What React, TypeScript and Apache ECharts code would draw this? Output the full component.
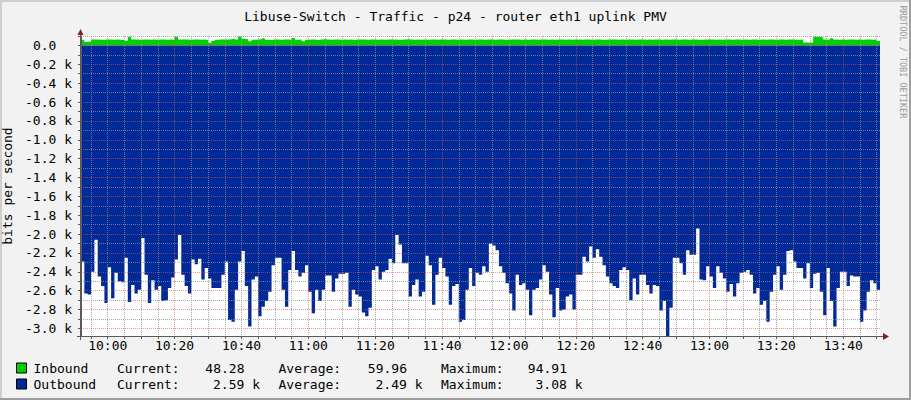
import React, { useEffect, useRef } from 'react';
import * as echarts from 'echarts';

// Time axis in minutes since midnight (09:52 .. 13:51), one sample per minute
const START_MINUTE = 592;
const END_MINUTE = 831;

// Outbound traffic, in k bits per second (drawn negative)
const outboundK = [
  2.29, 2.63, 2.64, 2.40, 2.06, 2.45, 2.55, 2.73, 2.35, 2.68, 2.41, 2.50, 2.51, 2.25, 2.72, 2.54, 2.63, 2.59, 2.04, 2.43,
  2.73, 2.49, 2.59, 2.55, 2.71, 2.70, 2.57, 2.46, 2.27, 2.01,
  2.43, 2.55, 2.63, 2.27, 2.32, 2.26, 2.48, 2.36, 2.47, 2.57, 2.57, 2.57, 2.43, 2.29, 2.91, 2.93, 2.59, 2.29, 2.18, 2.55,
  2.98, 2.48, 2.45, 2.87, 2.77, 2.71, 2.61, 2.33, 2.25, 2.25,
  2.59, 2.77, 2.38, 2.18, 2.38, 2.45, 2.41, 2.33, 2.61, 2.84, 2.59, 2.71, 2.59, 2.44, 2.44, 2.61, 2.47, 2.42, 2.42, 2.41,
  2.77, 2.59, 2.64, 2.66, 2.83, 2.87, 2.78, 2.38, 2.34, 2.48,
  2.40, 2.38, 2.26, 2.31, 2.01, 2.11, 2.31, 2.31, 2.66, 2.54, 2.48, 2.66, 2.61, 2.23, 2.33, 2.75, 2.43, 2.25, 2.36, 2.45,
  2.75, 2.55, 2.53, 2.93, 2.91, 2.59, 2.36, 2.55, 2.41, 2.43,
  2.34, 2.40, 2.10, 2.12, 2.17, 2.34, 2.41, 2.52, 2.63, 2.81, 2.43, 2.54, 2.52, 2.59, 2.86, 2.59, 2.57, 2.48, 2.33, 2.40,
  2.64, 2.88, 2.57, 2.81, 2.80, 2.66, 2.64, 2.80, 2.43, 2.43,
  2.24, 2.29, 2.13, 2.25, 2.16, 2.24, 2.33, 2.45, 2.52, 2.55, 2.57, 2.38, 2.35, 2.38, 2.70, 2.47, 2.64, 2.43, 2.43, 2.54,
  2.63, 2.54, 2.55, 2.81, 2.71, 3.08, 2.78, 2.25, 2.25, 2.31,
  2.43, 2.17, 2.22, 2.22, 1.94, 2.48, 2.49, 2.34, 2.45, 2.57, 2.34, 2.41, 2.47, 2.61, 2.53, 2.66, 2.52, 2.41, 2.40, 2.38,
  2.43, 2.63, 2.57, 2.75, 2.71, 2.93, 2.61, 2.43, 2.34, 2.59,
  2.43, 2.18, 2.17, 2.29, 2.36, 2.36, 2.47, 2.31, 2.57, 2.42, 2.41, 2.61, 2.86, 2.36, 2.71, 2.98, 2.57, 2.40, 2.40, 2.55,
  2.44, 2.45, 2.45, 2.93, 2.81, 2.61, 2.49, 2.52, 2.59,
];

// Inbound traffic, in bits per second
const inboundBits = [
  60, 40, 42, 62, 63, 60, 61, 64, 62, 60, 62, 61, 58, 50, 92, 63, 62, 60, 64, 62,
  60, 63, 61, 62, 63, 60, 62, 61, 93, 64,
  63, 62, 60, 64, 62, 61, 63, 58, 28, 48, 61, 63, 62, 64, 66, 72, 62, 95, 70, 66,
  45, 60, 64, 66, 75, 60, 58, 62, 63, 61,
  62, 64, 60, 80, 61, 62, 45, 60, 64, 62, 58, 63, 65, 62, 60, 62, 64, 61, 63, 60,
  62, 58, 63, 62, 64, 60, 62, 63, 61, 62,
  60, 63, 62, 64, 61, 60, 62, 65, 63, 60, 62, 61, 63, 60, 62, 64, 61, 63, 62, 60,
  64, 62, 60, 63, 61, 62, 64, 60, 62, 63,
  61, 62, 64, 60, 62, 63, 61, 60, 62, 64, 63, 60, 62, 61, 63, 62, 60, 64, 62, 61,
  63, 60, 62, 64, 61, 62, 60, 63, 62, 61,
  62, 64, 60, 62, 63, 61, 60, 62, 64, 63, 60, 62, 61, 63, 62, 60, 64, 62, 61, 63,
  60, 62, 64, 61, 62, 60, 63, 62, 61, 62,
  64, 60, 62, 63, 61, 60, 62, 64, 63, 60, 62, 61, 63, 62, 60, 64, 62, 61, 63, 60,
  62, 64, 61, 62, 60, 63, 62, 61, 62, 64,
  60, 62, 63, 61, 60, 62, 30, 28, 32, 93, 90, 88, 62, 60, 75, 62, 61, 63, 60, 62,
  64, 61, 62, 60, 63, 62, 61, 62, 48,
];

const xLabelMinutes = [600, 620, 640, 660, 680, 700, 720, 740, 760, 780, 800, 820];
const yLabelValues = [-3000, -2800, -2600, -2400, -2200, -2000, -1800, -1600, -1400, -1200, -1000, -800, -600, -400, -200, 0];

const legendNames = ['Inbound', 'Outbound'];
const seriesColors = ['#00CF00', '#002A97'];
const currentStats = ['48.28', '2.59 k'];
const averageStats = ['59.96', '2.49 k'];
const maximumStats = ['94.91', '3.08 k'];

const TITLE = 'Libuse-Switch - Traffic - p24 - router eth1 uplink PMV';
const FONT = "'DejaVu Sans Mono', 'Liberation Mono', monospace";
const GRID_MINOR = 'rgba(143,143,143,0.75)';
const GRID_MAJOR = 'rgba(222,79,79,0.6)';
const AXIS_COLOR = '#5a5a5a';
const ARROW_COLOR = '#801F1F';

const xTicks: number[] = [];
for (let m = 595; m <= 830; m += 5) xTicks.push(m);
const yTicks: number[] = [];
for (let v = -3000; v <= 100; v += 100) yTicks.push(v);

const xSplitColors = xTicks.map((m) => ((m - 620) % 40 === 0 ? GRID_MAJOR : GRID_MINOR));
const ySplitColors = yTicks.map((v) => (v % 200 === 0 ? GRID_MAJOR : GRID_MINOR));

function hhmm(m: number) {
  const h = Math.floor(m / 60);
  const mm = Math.round(m % 60);
  return `${h}:${mm < 10 ? '0' : ''}${mm}`;
}

function stepData(values: number[], scale: number) {
  const d: number[][] = values.map((v, i) => [START_MINUTE + i, v * scale]);
  d.push([START_MINUTE + values.length, values[values.length - 1] * scale]);
  return d;
}

export default function App() {
  const ref = useRef<HTMLDivElement>(null);

  useEffect(() => {
    if (!ref.current) return;
    const chart = echarts.init(ref.current, null, { renderer: 'svg' });

    const statText = (x: number, y: number, text: string, align: string) => ({
      type: 'text',
      x,
      y,
      silent: true,
      style: { text, fill: '#000', font: `13px ${FONT}`, textAlign: align, textVerticalAlign: 'middle' },
    });

    const rows = [368, 384];
    const statGraphics: any[] = [];
    rows.forEach((y, r) => {
      statGraphics.push(statText(117, y, 'Current:', 'left'));
      statGraphics.push(statText(r === 0 ? 244.5 : 260, y, currentStats[r], 'right'));
      statGraphics.push(statText(278.5, y, 'Average:', 'left'));
      statGraphics.push(statText(r === 0 ? 407 : 422.5, y, averageStats[r], 'right'));
      statGraphics.push(statText(441, y, 'Maximum:', 'left'));
      statGraphics.push(statText(r === 0 ? 567 : 582.5, y, maximumStats[r], 'right'));
    });

    const option: any = {
      animation: false,
      backgroundColor: '#F2F2F2',
      title: {
        text: TITLE,
        left: 'center',
        top: 5,
        textStyle: { fontFamily: FONT, fontSize: 13, fontWeight: 'normal', color: '#000' },
      },
      legend: {
        data: legendNames,
        orient: 'vertical',
        left: 16,
        top: 360,
        padding: 0,
        itemWidth: 10,
        itemHeight: 10,
        itemGap: 0,
        icon: 'rect',
        selectedMode: false,
        itemStyle: { borderColor: '#000', borderWidth: 1 },
        textStyle: { fontFamily: FONT, fontSize: 13, color: '#000', lineHeight: 16, padding: [0, 0, 0, 2] },
      },
      grid: {
        left: 81,
        right: 31,
        top: 36,
        bottom: 64,
        show: true,
        backgroundColor: '#FFFFFF',
        borderWidth: 0,
        containLabel: false,
        outerBoundsMode: 'none',
      },
      xAxis: {
        type: 'value',
        min: START_MINUTE,
        max: END_MINUTE,
        z: 5,
        axisLine: { show: true, onZero: false, lineStyle: { color: AXIS_COLOR, width: 1 } },
        axisTick: { show: true, customValues: xTicks, length: 3, lineStyle: { color: AXIS_COLOR } },
        axisLabel: {
          customValues: xLabelMinutes,
          formatter: (v: number) => hhmm(v),
          fontFamily: FONT,
          fontSize: 13,
          color: '#000',
          margin: 3,
        },
        splitLine: { show: true, lineStyle: { color: xSplitColors, type: [1, 1], width: 1 } },
      },
      yAxis: {
        type: 'value',
        min: -3080,
        max: 100,
        z: 5,
        name: 'bits per second',
        nameLocation: 'middle',
        nameGap: 61,
        nameRotate: 90,
        nameTextStyle: { fontFamily: FONT, fontSize: 13, color: '#000' },
        axisLine: { show: true, onZero: false, lineStyle: { color: AXIS_COLOR, width: 1 } },
        axisTick: { show: true, customValues: yTicks, length: 3, lineStyle: { color: AXIS_COLOR } },
        axisLabel: {
          customValues: yLabelValues,
          formatter: (v: number) => (v === 0 ? '{z|0.0}' : `${(v / 1000).toFixed(1)} k`),
          fontFamily: FONT,
          fontSize: 13,
          color: '#000',
          margin: 9,
          rich: { z: { fontFamily: FONT, fontSize: 13, color: '#000', padding: [0, 15.6, 0, 0] } },
        },
        splitLine: { show: true, lineStyle: { color: ySplitColors, type: [1, 1], width: 1 } },
      },
      series: [
        {
          name: legendNames[0],
          type: 'line',
          step: 'end',
          symbol: 'none',
          data: stepData(inboundBits, 1),
          itemStyle: { color: seriesColors[0] },
          lineStyle: { width: 0, color: seriesColors[0] },
          areaStyle: { color: seriesColors[0], opacity: 1 },
          z: 2,
        },
        {
          name: legendNames[1],
          type: 'line',
          step: 'end',
          symbol: 'none',
          data: stepData(outboundK, -1000),
          itemStyle: { color: seriesColors[1] },
          lineStyle: { width: 0, color: seriesColors[1] },
          areaStyle: { color: seriesColors[1], opacity: 1 },
          z: 2,
        },
      ],
      graphic: [
        // frame shading
        { type: 'rect', silent: true, shape: { x: 0, y: 0, width: 911, height: 2 }, style: { fill: '#CFCFCF' } },
        { type: 'rect', silent: true, shape: { x: 0, y: 0, width: 2, height: 400 }, style: { fill: '#CFCFCF' } },
        { type: 'rect', silent: true, shape: { x: 0, y: 398, width: 911, height: 2 }, style: { fill: '#9E9E9E' } },
        { type: 'rect', silent: true, shape: { x: 909, y: 0, width: 2, height: 400 }, style: { fill: '#9E9E9E' } },
        // axis extensions and arrows
        { type: 'line', silent: true, z: 10, shape: { x1: 77, y1: 336.5, x2: 884, y2: 336.5 }, style: { stroke: AXIS_COLOR, lineWidth: 1 } },
        { type: 'line', silent: true, z: 10, shape: { x1: 80.5, y1: 340, x2: 80.5, y2: 33 }, style: { stroke: AXIS_COLOR, lineWidth: 1 } },
        { type: 'polygon', silent: true, z: 11, shape: { points: [[883, 333], [889, 336.5], [883, 340]] }, style: { fill: ARROW_COLOR } },
        { type: 'polygon', silent: true, z: 11, shape: { points: [[77.5, 35], [80.5, 29], [83.5, 35]] }, style: { fill: ARROW_COLOR } },
        // watermark
        {
          type: 'text',
          silent: true,
          x: 903,
          y: 62,
          rotation: -Math.PI / 2,
          style: {
            text: 'RRDTOOL / TOBI OETIKER',
            fill: '#9a9a9a',
            font: `8.5px ${FONT}`,
            textAlign: 'center',
            textVerticalAlign: 'middle',
          },
        },
        ...statGraphics,
      ],
    };

    chart.setOption(option);
    return () => chart.dispose();
  }, []);

  return <div ref={ref} style={{ position: 'absolute', left: 0, top: 0, width: 911, height: 400 }} />;
}
